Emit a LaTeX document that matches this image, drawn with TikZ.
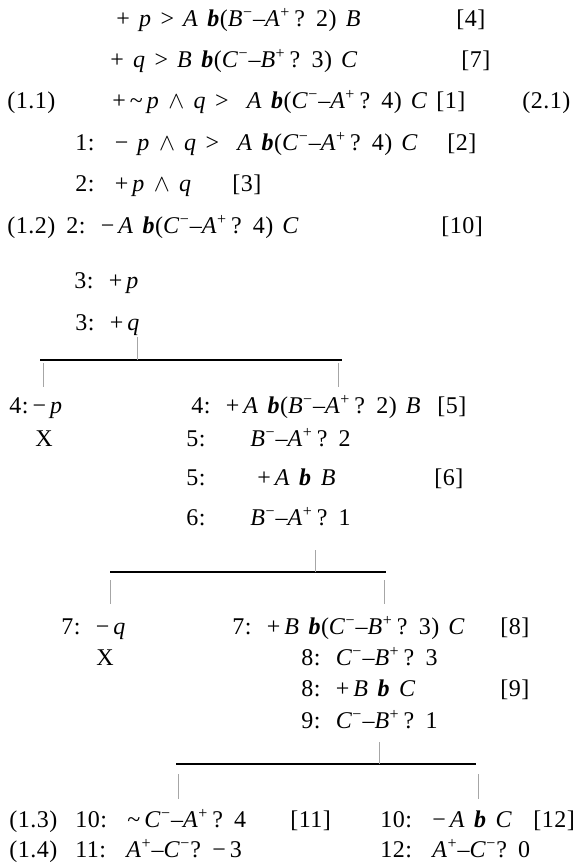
\documentclass[tikz,border=0pt]{standalone}
\usepackage{fontspec}
\setmainfont[LetterSpace=2,WordSpace=1.4]{Liberation Serif}
\usepackage{tikz}
\usetikzlibrary{positioning}

\newcommand{\vv}[1]{\textit{#1}}
\newcommand{\bb}{\textbf{\textit{b}}}
\newcommand{\pl}{\textsuperscript{+}}
\newcommand{\mi}{\textsuperscript{−}}
\newcommand{\wg}{$\wedge$}

\tikzset{
  line/.style={anchor=base west, inner sep=0pt},
  bar/.style={line width=0.75pt},
  tick/.style={draw=black!35, line width=0.5pt}
}

\begin{document}
\begin{tikzpicture}[x=0.5pt, y=-0.5pt, font=\fontsize{12}{14}\selectfont]
    \useasboundingbox (0,0) rectangle (576,863);

    % premises
    \node[line] (f1) at (116,26) {+\ \vv{p} > \vv{A} \bb(\vv{B}\mi–\vv{A}\pl\,? 2) \vv{B}};
    \node[line] (t4) at (456,26) {[4]};
    \node[line] (f2) at (110,67) {+\ \vv{q} > \vv{B} \bb(\vv{C}\mi–\vv{B}\pl\,? 3) \vv{C}};
    \node[line] (t7) at (461,67) {[7]};
    \node[line] (l11) at (7,108) {(1.1)};
    \node[line] (f3) at (112,108) {+\,\textasciitilde\,\vv{p} \wg\ \vv{q} > \ \vv{A} \bb(\vv{C}\mi–\vv{A}\pl\,? 4) \vv{C}};
    \node[line] (t1) at (436,108) {[1]};
    \node[line] (l21) at (522,108) {(2.1)};
    \node[line] (f4) at (75,150) {1: \ − \vv{p} \wg\ \vv{q} > \ \vv{A} \bb(\vv{C}\mi–\vv{A}\pl\,? 4) \vv{C}};
    \node[line] (t2) at (447,150) {[2]};
    \node[line] (f5) at (75,191) {2: \ +\,\vv{p} \wg\ \vv{q}};
    \node[line] (t3) at (232,191) {[3]};
    \node[line] (l12) at (7,233) {(1.2)};
    \node[line] (f6) at (66,233) {2: \,−\,\vv{A} \bb(\vv{C}\mi–\vv{A}\pl\,? 4) \vv{C}};
    \node[line] (t10) at (441,233) {[10]};
    \node[line] (p3) at (74,288) {3: \,+\,\vv{p}};
    \node[line] (q3) at (75,330) {3: \,+\,\vv{q}};

    % first split
    \coordinate (j1) at (137,360);
    \coordinate (j1l) at (40,360);
    \coordinate (j1r) at (342,360);
    \draw[bar] (j1l) -- (j1r);
    \draw[tick] (j1) -- ++(0,-23);
    \draw[tick] (j1l) ++(3,3) -- ++(0,24);
    \draw[tick] (j1r) ++(-4,3) -- ++(0,24);

    \node[line] (np4) at (9,413) {4:\,−\,\vv{p}};
    \node[line] (x1) at (35,446) {X};
    \node[line] (f7) at (191,413) {4: \,+\,\vv{A} \bb(\vv{B}\mi–\vv{A}\pl\,? 2) \vv{B}};
    \node[line] (t5) at (437,413) {[5]};
    \node[line] (n5a) at (186,446) {5:};
    \node[line] (f8) at (250,446) {\vv{B}\mi–\vv{A}\pl\,? 2};
    \node[line] (n5b) at (186,485) {5:};
    \node[line] (f9) at (257,485) {+\,\vv{A} \bb\ \vv{B}};
    \node[line] (t6) at (434,485) {[6]};
    \node[line] (n6) at (186,525) {6:};
    \node[line] (f10) at (250,525) {\vv{B}\mi–\vv{A}\pl\,? 1};

    % second split
    \coordinate (j2) at (315,572);
    \coordinate (j2l) at (110,572);
    \coordinate (j2r) at (386,572);
    \draw[bar] (j2l) -- (j2r);
    \draw[tick] (j2) -- ++(0,-22);
    \draw[tick] (j2l) ++(0,8) -- ++(0,24);
    \draw[tick] (j2r) ++(-2,8) -- ++(0,24);

    \node[line] (nq7) at (61,634) {7: \,−\,\vv{q}};
    \node[line] (x2) at (96,665) {X};
    \node[line] (f11) at (232,634) {7: \,+\,\vv{B} \bb(\vv{C}\mi–\vv{B}\pl\,? 3) \vv{C}};
    \node[line] (t8) at (500,634) {[8]};
    \node[line] (f12) at (301,665) {8: \,\vv{C}\mi–\vv{B}\pl\,? 3};
    \node[line] (f13) at (301,696) {8: \,+\,\vv{B} \bb\ \vv{C}};
    \node[line] (t9) at (500,696) {[9]};
    \node[line] (f14) at (301,728) {9: \,\vv{C}\mi–\vv{B}\pl\,? 1};

    % third split
    \coordinate (j3) at (379,764);
    \coordinate (j3l) at (176,764);
    \coordinate (j3r) at (476,764);
    \draw[bar] (j3l) -- (j3r);
    \draw[tick] (j3) -- ++(0,-22);
    \draw[tick] (j3l) ++(2,10) -- ++(0,25);
    \draw[tick] (j3r) ++(2,10) -- ++(0,25);

    \node[line] (l13) at (9,827) {(1.3)};
    \node[line] (f15) at (75,827) {10: \ \textasciitilde\,\vv{C}\mi–\vv{A}\pl\,? 4};
    \node[line] (t11) at (290,827) {[11]};
    \node[line] (f16) at (380,827) {10: \ −\,\vv{A} \bb\ \vv{C}};
    \node[line] (t12) at (533,827) {[12]};
    \node[line] (l14) at (9,857) {(1.4)};
    \node[line] (f17) at (75,857) {11: \ \vv{A}\pl–\vv{C}\mi? −\,3};
    \node[line] (f18) at (380,857) {12: \ \vv{A}\pl–\vv{C}\mi? 0};
\end{tikzpicture}
\end{document}
